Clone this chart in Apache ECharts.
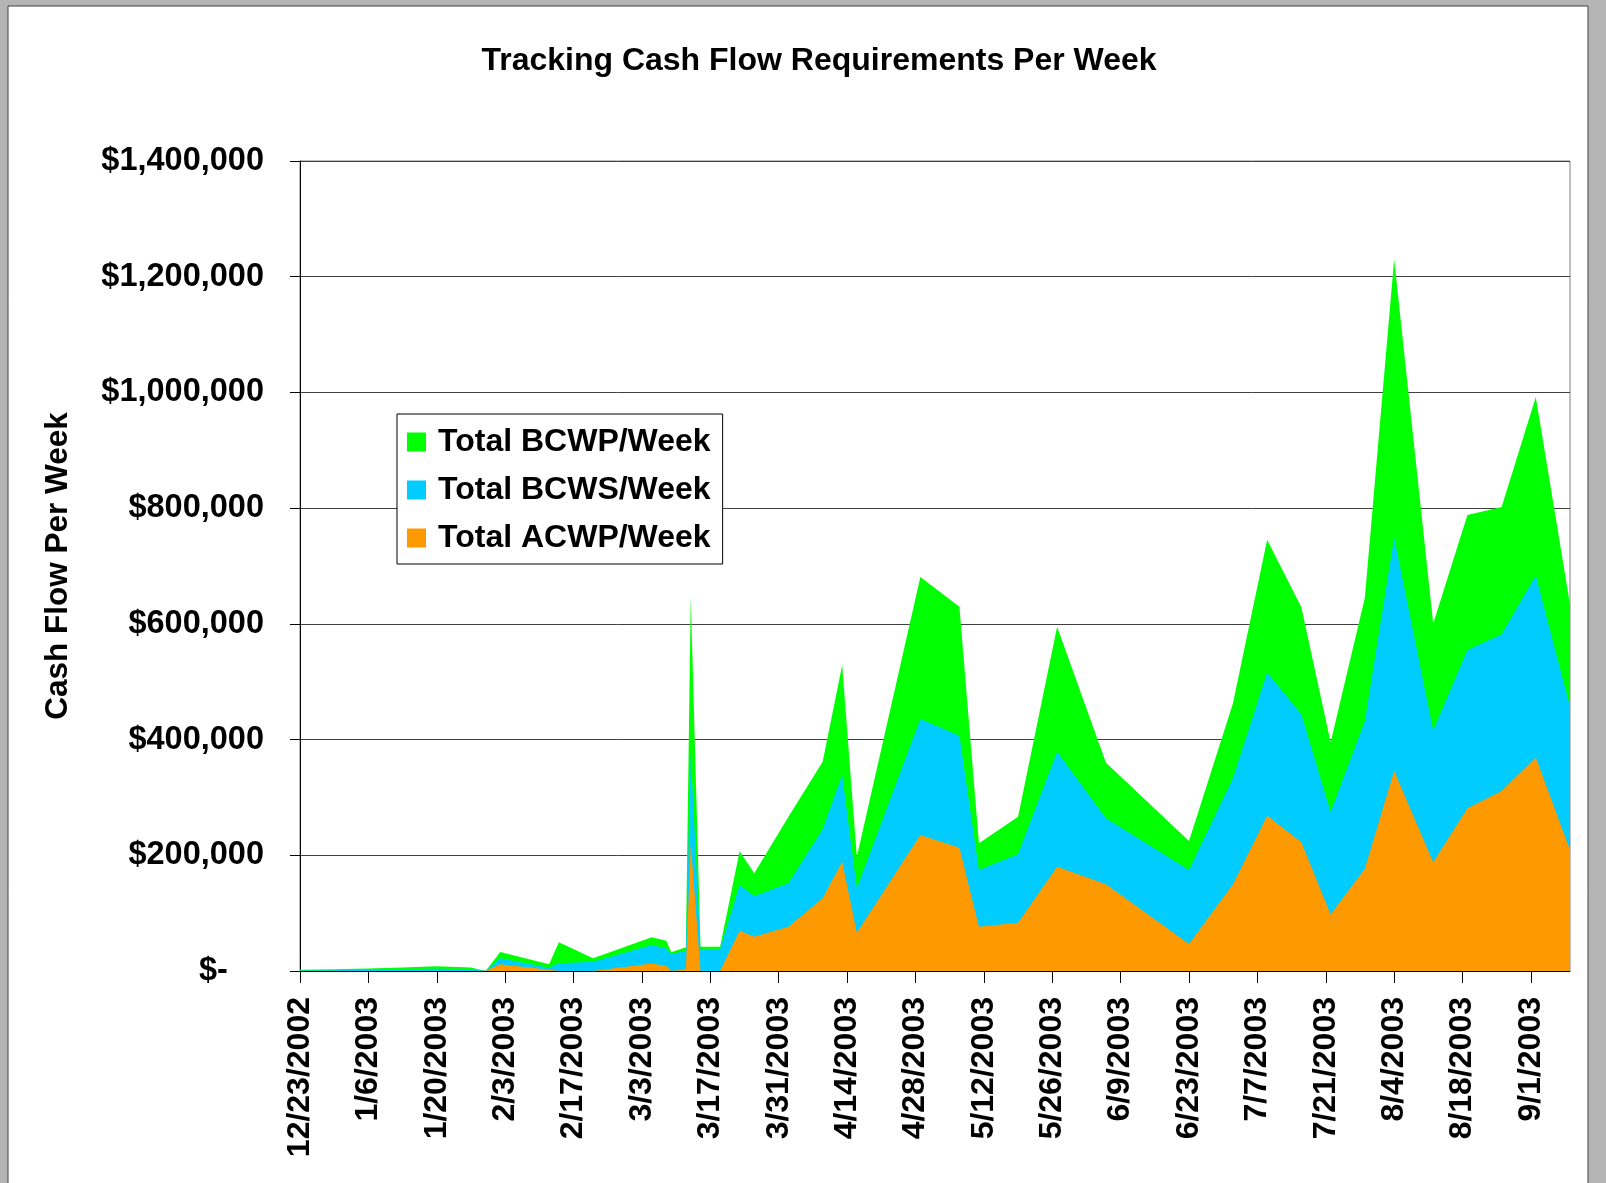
<!DOCTYPE html>
<html>
<head>
<meta charset="utf-8">
<script src="https://cdn.jsdelivr.net/npm/echarts@6/dist/echarts.min.js"></script>
<style>
html, body { margin: 0; padding: 0; background: #b4b4b4; }
#main { width: 1606px; height: 1183px; }
</style>
</head>
<body>
<div id="main"></div>
<script>
// weekly cash flow
var dates = ['12/23/2002','12/30/2002','1/6/2003','1/13/2003','1/20/2003','1/27/2003','1/30/2003',
	'2/2/2003','2/12/2003','2/14/2003','2/21/2003','3/5/2003','3/8/2003','3/9/2003',
	'3/12/2003','3/13/2003','3/15/2003','3/19/2003','3/23/2003','3/26/2003','4/2/2003',
	'4/9/2003','4/13/2003','4/16/2003','4/29/2003','5/7/2003','5/11/2003','5/19/2003',
	'5/27/2003','6/6/2003','6/23/2003','7/2/2003','7/9/2003','7/16/2003','7/22/2003',
	'7/29/2003','8/4/2003','8/12/2003','8/19/2003','8/26/2003','9/2/2003','9/9/2003'];

var bcwp = [2000, 3000, 4500, 6000, 8000, 6000, 0,
	33000, 11600, 49600, 21900, 58200, 52400, 32300,
	41000, 647000, 42000, 42000, 207000, 168800, 266600,
	361700, 528800, 197500, 681000, 629500, 220600, 266600,
	595000, 360000, 224600, 462600, 745500, 628800, 395500,
	645000, 1230000, 600600, 788000, 801800, 992000, 634000];

var bcws = [1000, 1500, 2000, 3000, 4000, 3000, 0,
	22000, 5700, 13200, 16000, 45000, 39000, 29000,
	35000, 376000, 36000, 38000, 148600, 129600, 151500,
	244800, 338700, 142900, 435500, 406600, 174500, 202000,
	379000, 263800, 174500, 333000, 516000, 443800, 275000,
	431800, 749400, 415600, 554900, 582000, 683600, 456700];

var acwp = [0, 0, 0, 0, 0, 0, 0,
	11600, 2000, 0, 0, 13000, 8600, 0,
	3000, 220000, 0, 0, 69700, 59300, 76600,
	125600, 188900, 66200, 235000, 213000, 76600, 83500,
	180000, 150000, 46700, 150000, 268400, 222600, 97800,
	176800, 345600, 188000, 281300, 311000, 369000, 209000];

var tickDates = ['12/23/2002','1/6/2003','1/20/2003','2/3/2003','2/17/2003','3/3/2003',
	'3/17/2003','3/31/2003','4/14/2003','4/28/2003','5/12/2003','5/26/2003','6/9/2003',
	'6/23/2003','7/7/2003','7/21/2003','8/4/2003','8/18/2003','9/1/2003'];

var lastDay = '9/9/2003';

var font = "'Liberation Sans', Arial, sans-serif";

function dayOf(s){
	var p = s.split('/');
	return Math.round((Date.UTC(+p[2], p[0] - 1, +p[1]) - Date.UTC(2002, 11, 23)) / 86400000);
}

var tickDays = tickDates.map(dayOf);
var labelOf = {};
tickDates.forEach(function(s){ labelOf[dayOf(s)] = s; });

function pairs(vals){
	return dates.map(function(d, i){ return [dayOf(d), vals[i]]; });
}

function money(v){
	if (v === 0) return '$-    ';
	return '$' + v.toLocaleString('en-US');
}

function areaSeries(name, color, vals){
	return {
		name: name,
		type: 'line',
		data: pairs(vals),
		showSymbol: false,
		symbol: 'none',
		silent: true,
		animation: false,
		itemStyle: { color: color },
		lineStyle: { color: color, width: 1, opacity: 0 },
		areaStyle: { color: color, opacity: 1 }
	};
}

var myChart = echarts.init(document.getElementById('main'));

var option = {
	backgroundColor: '#b4b4b4',
	animation: false,
	graphic: [{
		type: 'rect',
		z: -10,
		shape: { x: 8, y: 6, width: 1580, height: 1190 },
		style: { fill: '#fff', stroke: '#404040', lineWidth: 1 }
	}],
	title: {
		text: 'Tracking Cash Flow Requirements Per Week',
		left: 814,
		top: 40,
		textAlign: 'center',
		textStyle: { fontFamily: font, fontSize: 32, fontWeight: 'bold', color: '#000' }
	},
	legend: {
		orient: 'vertical',
		left: 397,
		top: 414,
		padding: [12, 12, 10, 10],
		itemGap: 16,
		itemWidth: 19,
		itemHeight: 19,
		icon: 'rect',
		backgroundColor: '#fff',
		borderColor: '#000',
		borderWidth: 1,
		data: ['Total BCWP/Week', 'Total BCWS/Week', 'Total ACWP/Week'],
		textStyle: { fontFamily: font, fontSize: 32, fontWeight: 'bold', color: '#000', padding: [0, 0, 0, 7] }
	},
	grid: {
		left: 300,
		right: 36,
		top: 161,
		bottom: 212,
		show: true,
		backgroundColor: '#fff',
		borderColor: '#808080',
		borderWidth: 1
	},
	xAxis: {
		type: 'value',
		min: 0,
		max: dayOf(lastDay),
		interval: 14,
		axisLine: { lineStyle: { color: '#000', width: 1 } },
		axisTick: { show: true, length: 12, lineStyle: { color: '#000' }, customValues: tickDays },
		splitLine: { show: false },
		axisLabel: {
			customValues: tickDays,
			rotate: 90,
			margin: 26,
			fontFamily: font,
			fontSize: 32,
			fontWeight: 'bold',
			color: '#000',
			formatter: function(v){ return labelOf[v] || ''; }
		}
	},
	yAxis: {
		type: 'value',
		min: 0,
		max: 1400000,
		interval: 200000,
		name: 'Cash Flow Per Week',
		nameLocation: 'middle',
		nameRotate: 90,
		nameGap: 226,
		nameTextStyle: { fontFamily: font, fontSize: 31.5, fontWeight: 'bold', color: '#000' },
		axisLine: { show: true, lineStyle: { color: '#000', width: 1 } },
		axisTick: { show: true, length: 10, lineStyle: { color: '#000' } },
		splitLine: { show: true, lineStyle: { color: '#404040', width: 1 } },
		axisLabel: {
			margin: 36,
			fontFamily: font,
			fontSize: 32.5,
			fontWeight: 'bold',
			color: '#000',
			formatter: money
		}
	},
	series: [
		areaSeries('Total BCWP/Week', '#00ff00', bcwp),
		areaSeries('Total BCWS/Week', '#00ccff', bcws),
		areaSeries('Total ACWP/Week', '#ff9900', acwp)
	]
};

myChart.setOption(option);
</script>
</body>
</html>
